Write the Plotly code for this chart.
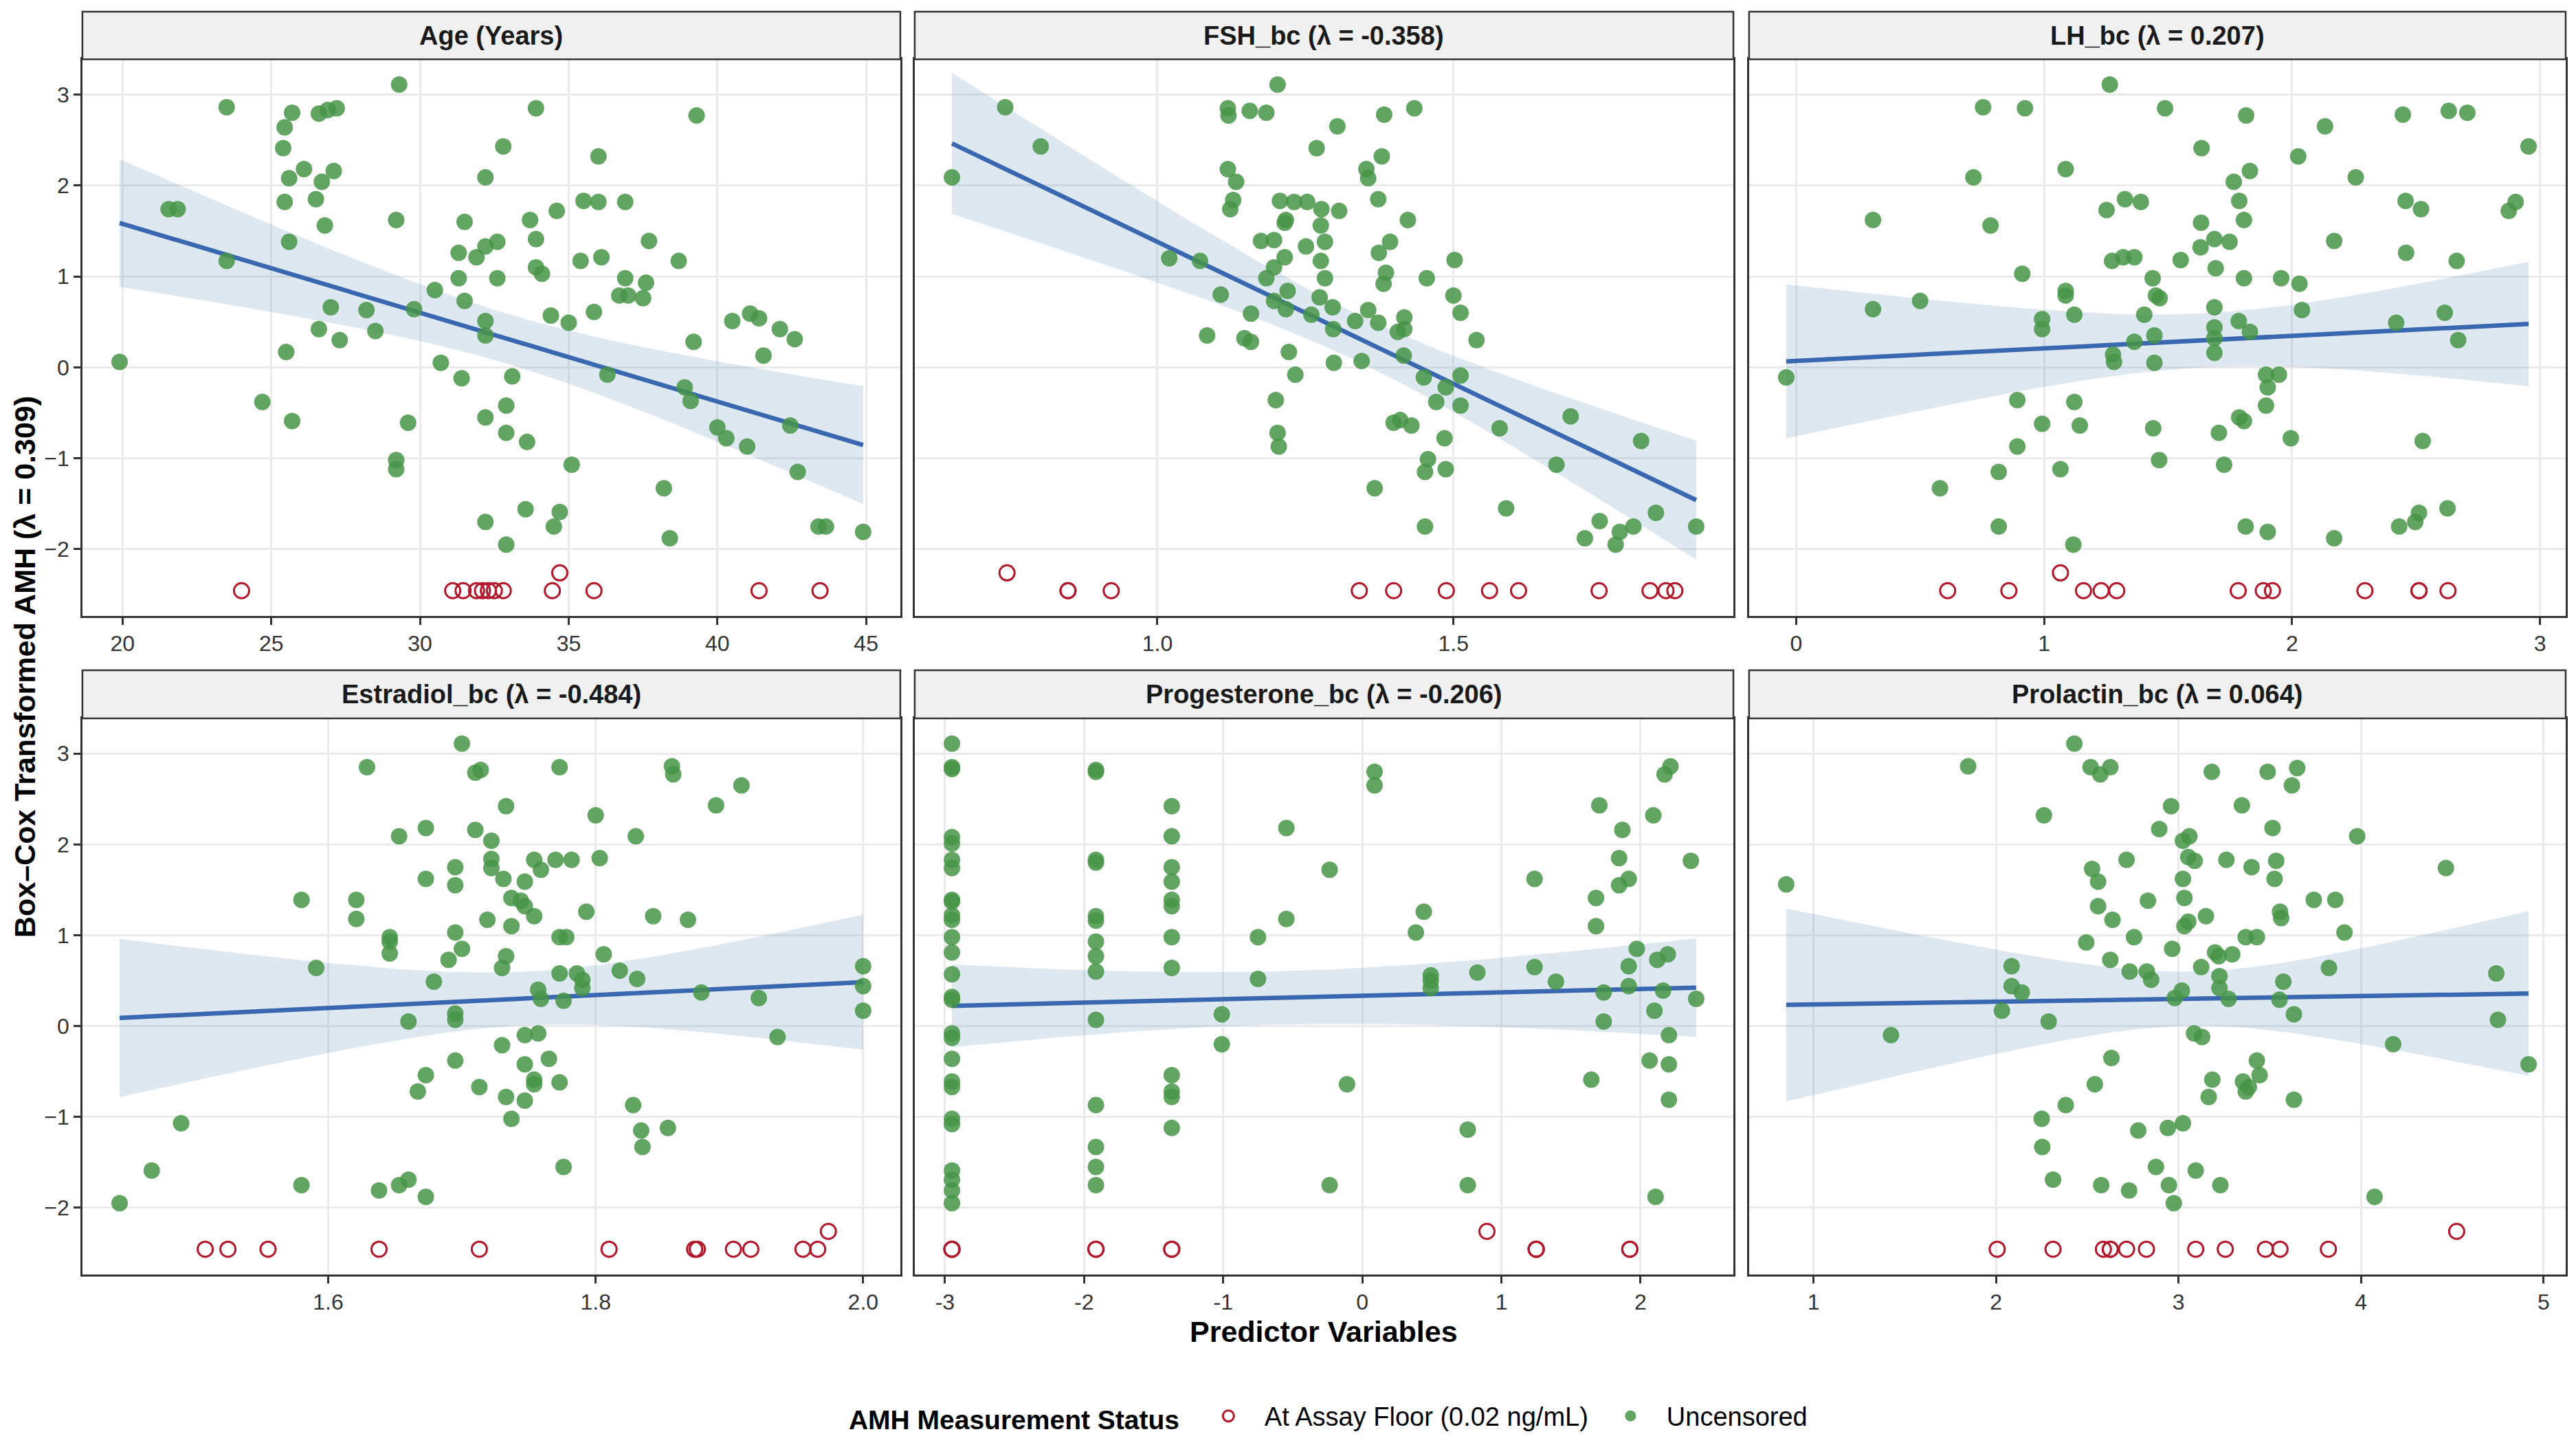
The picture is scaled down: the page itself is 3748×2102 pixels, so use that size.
import numpy as np
import plotly.graph_objects as go

# ---- data: (predictor, Box-Cox AMH) ----
AGE_PTS = [(19.9, 0.06), (21.55, 1.74), (21.85, 1.74), (23.5, 2.86), (23.5, 1.17), (24.7, -0.38),
           (25.4, 2.41), (25.45, 2.64), (25.7, 2.80), (25.6, 2.08), (25.45, 1.82), (25.6, 1.38),
           (25.5, 0.17), (25.7, -0.59), (26.1, 2.18), (26.5, 1.85), (26.7, 2.04), (26.8, 1.56),
           (27.1, 2.16), (26.6, 2.79), (26.9, 2.83), (27.2, 2.85), (27.0, 0.66), (26.6, 0.42),
           (27.3, 0.30), (28.2, 0.63), (28.5, 0.40), (29.3, 3.11), (29.2, 1.62), (29.2, -1.02),
           (29.2, -1.12), (29.6, -0.61), (29.8, 0.64), (30.5, 0.85), (30.7, 0.05), (31.3, 1.26),
           (31.3, 0.98), (31.5, 1.60), (31.5, 0.73), (31.4, -0.12), (31.9, 1.21), (32.2, 1.33),
           (32.2, 2.09), (32.6, 1.38), (32.6, 0.98), (32.8, 2.43), (32.2, 0.51), (32.2, 0.35),
           (33.1, -0.10), (32.9, -0.42), (32.2, -0.55), (32.9, -0.72), (33.6, -0.82), (33.7, 1.62),
           (33.9, 2.85), (33.9, 1.41), (33.9, 1.10), (34.1, 1.03), (34.4, 0.57), (34.6, 1.72),
           (35.0, 0.49), (35.1, -1.07), (33.55, -1.56), (32.2, -1.70), (32.9, -1.95), (34.5, -1.75),
           (34.7, -1.59), (35.4, 1.17), (35.5, 1.83), (36.0, 1.82), (36.0, 2.32), (36.1, 1.21),
           (35.85, 0.61), (36.3, -0.08), (36.9, 0.98), (36.9, 1.82), (36.7, 0.79), (37.0, 0.79),
           (37.5, 0.76), (37.6, 0.93), (37.7, 1.39), (38.2, -1.33), (38.4, -1.88), (38.7, 1.17),
           (38.9, -0.22), (39.1, -0.37), (39.2, 0.28), (39.3, 2.77), (40.0, -0.66), (40.3, -0.78),
           (40.5, 0.51), (41.1, 0.59), (41.4, 0.54), (41.0, -0.87), (41.55, 0.13), (42.1, 0.42),
           (42.6, 0.31), (42.45, -0.64), (42.7, -1.15), (43.4, -1.75), (43.65, -1.75), (44.9, -1.81)]
AGE_FLOOR = [(24.0, -2.456), (31.1, -2.456), (31.45, -2.456), (31.9, -2.456), (32.1, -2.456),
             (32.3, -2.456), (32.5, -2.456), (32.8, -2.456), (34.45, -2.456), (34.7, -2.26),
             (35.85, -2.456), (41.4, -2.456), (43.45, -2.456)]

FSH_PTS = [(0.653, 2.09), (0.743, 2.86), (0.803, 2.43), (1.02, 1.20), (1.072, 1.17), (1.107, 0.80),
           (1.084, 0.35), (1.119, 2.85), (1.12, 2.77), (1.156, 2.82), (1.184, 2.80), (1.203, 3.11),
           (1.119, 2.18), (1.133, 2.04), (1.128, 1.84), (1.123, 1.74), (1.207, 1.83), (1.231, 1.82),
           (1.253, 1.82), (1.277, 1.74), (1.307, 1.72), (1.217, 1.62), (1.215, 1.59), (1.276, 1.56),
           (1.175, 1.39), (1.197, 1.40), (1.251, 1.33), (1.283, 1.38), (1.215, 1.21), (1.197, 1.10),
           (1.184, 0.98), (1.276, 1.17), (1.283, 0.98), (1.22, 0.84), (1.197, 0.73), (1.217, 0.64),
           (1.274, 0.77), (1.296, 0.66), (1.26, 0.58), (1.158, 0.59), (1.147, 0.32), (1.158, 0.28),
           (1.222, 0.17), (1.233, -0.08), (1.297, 0.42), (1.298, 0.05), (1.20, -0.36), (1.203, -0.72),
           (1.205, -0.87), (1.269, 2.41), (1.304, 2.65), (1.353, 2.18), (1.356, 2.08), (1.383, 2.78),
           (1.434, 2.85), (1.379, 2.32), (1.373, 1.85), (1.423, 1.62), (1.393, 1.38), (1.374, 1.26),
           (1.386, 1.04), (1.382, 0.92), (1.334, 0.51), (1.356, 0.63), (1.373, 0.49), (1.417, 0.55),
           (1.417, 0.42), (1.406, 0.39), (1.345, 0.07), (1.416, 0.13), (1.455, 0.98), (1.45, -0.11),
           (1.487, -0.22), (1.471, -0.38), (1.502, 1.18), (1.50, 0.79), (1.512, 0.60), (1.512, -0.09),
           (1.512, -0.42), (1.539, 0.30), (1.399, -0.61), (1.41, -0.58), (1.429, -0.64), (1.485, -0.78),
           (1.457, -1.01), (1.452, -1.15), (1.487, -1.12), (1.367, -1.33), (1.452, -1.75), (1.578, -0.67),
           (1.589, -1.55), (1.674, -1.07), (1.698, -0.54), (1.817, -0.81), (1.722, -1.88), (1.747, -1.69),
           (1.781, -1.81), (1.774, -1.95), (1.804, -1.75), (1.842, -1.60), (1.91, -1.75)]
# floor values: some circles sit exactly on top of each other
FSH_FLOOR = [(0.746, -2.26), (0.849, -2.456), (0.849, -2.456), (0.922, -2.456), (1.341, -2.456),
             (1.399, -2.456), (1.488, -2.456), (1.561, -2.456), (1.61, -2.456), (1.746, -2.456),
             (1.832, -2.456), (1.859, -2.456), (1.874, -2.456)]

LH_PTS = [(-0.04, -0.11), (0.31, 1.62), (0.31, 0.64), (0.50, 0.73), (0.58, -1.33), (0.715, 2.09),
          (0.754, 2.86), (0.784, 1.56), (0.817, -1.15), (0.817, -1.75), (0.892, -0.36), (0.892, -0.87),
          (0.912, 1.03), (0.923, 2.85), (0.992, 0.53), (0.992, 0.42), (0.992, -0.62), (1.066, -1.12),
          (1.087, 2.18), (1.087, 0.84), (1.087, 0.79), (1.122, 0.58), (1.122, -0.38), (1.144, -0.64),
          (1.118, -1.95), (1.265, 3.11), (1.252, 1.73), (1.326, 1.85), (1.39, 1.82), (1.274, 1.17),
          (1.319, 1.21), (1.364, 1.21), (1.278, 0.14), (1.282, 0.06), (1.364, 0.28), (1.404, 0.58),
          (1.438, 0.98), (1.451, 0.79), (1.466, 0.76), (1.445, 0.35), (1.445, 0.05), (1.44, -0.67),
          (1.464, -1.02), (1.488, 2.85), (1.551, 1.18), (1.635, 2.41), (1.633, 1.59), (1.631, 1.32),
          (1.687, 1.41), (1.692, 1.09), (1.687, 0.66), (1.687, 0.44), (1.687, 0.32), (1.687, 0.16),
          (1.705, -0.72), (1.726, -1.07), (1.748, 1.38), (1.765, 2.04), (1.787, 1.83), (1.806, 1.62),
          (1.806, 0.98), (1.785, 0.51), (1.83, 0.39), (1.815, 2.77), (1.83, 2.16), (1.787, -0.55),
          (1.806, -0.59), (1.813, -1.75), (1.895, -0.08), (1.947, -0.08), (1.902, -0.22), (1.895, -0.42),
          (1.902, -1.81), (1.956, 0.98), (1.995, -0.78), (2.025, 2.32), (2.03, 0.92), (2.04, 0.63),
          (2.133, 2.65), (2.17, 1.39), (2.17, -1.88), (2.257, 2.09), (2.42, 0.49), (2.432, -1.75),
          (2.447, 2.78), (2.458, 1.83), (2.46, 1.26), (2.52, 1.74), (2.527, -0.81), (2.497, -1.70),
          (2.512, -1.60), (2.632, 2.82), (2.707, 2.80), (2.664, 1.17), (2.616, 0.60), (2.67, 0.30),
          (2.627, -1.55), (2.874, 1.72), (2.902, 1.82), (2.954, 2.43)]
LH_FLOOR = [(0.611, -2.456), (0.858, -2.456), (1.066, -2.26), (1.159, -2.456), (1.23, -2.456),
            (1.293, -2.456), (1.783, -2.456), (1.884, -2.456), (1.921, -2.456), (2.294, -2.456),
            (2.512, -2.456), (2.512, -2.456), (2.629, -2.456)]

E2_PTS = [(1.444, -1.95), (1.468, -1.59), (1.49, -1.07), (1.58, 1.39), (1.58, -1.75), (1.591, 0.64),
          (1.621, 1.39), (1.621, 1.18), (1.629, 2.85), (1.638, -1.81), (1.646, 0.98), (1.646, 0.93),
          (1.646, 0.80), (1.653, 2.09), (1.653, -1.75), (1.66, -1.69), (1.66, 0.05), (1.667, -0.72),
          (1.673, 2.18), (1.673, 1.62), (1.673, -0.54), (1.673, -1.88), (1.679, 0.49), (1.69, 0.73),
          (1.695, 1.75), (1.695, 1.55), (1.695, 1.03), (1.695, 0.14), (1.695, 0.07), (1.695, -0.38),
          (1.70, 3.11), (1.70, 0.85), (1.71, 2.16), (1.71, 2.79), (1.714, 2.82), (1.713, -0.67),
          (1.719, 1.17), (1.722, 2.04), (1.722, 1.84), (1.722, 1.74), (1.731, 1.62), (1.73, 0.64),
          (1.733, 0.77), (1.733, 2.42), (1.737, 1.41), (1.737, 1.10), (1.73, -0.21), (1.733, -0.78),
          (1.737, -1.02), (1.744, 1.38), (1.747, 1.32), (1.747, 1.59), (1.754, 1.21), (1.754, 1.83),
          (1.759, 1.72), (1.747, -0.10), (1.747, -0.42), (1.747, -0.82), (1.754, -0.59), (1.754, -0.64),
          (1.757, -0.08), (1.757, 0.40), (1.759, 0.30), (1.765, -0.36), (1.77, 1.83), (1.773, 2.85),
          (1.773, 0.98), (1.778, 0.98), (1.773, 0.58), (1.776, 0.28), (1.773, -0.62), (1.776, -1.55),
          (1.782, 1.83), (1.786, 0.58), (1.79, 0.51), (1.79, 0.42), (1.793, 1.26), (1.80, 2.32),
          (1.803, 1.85), (1.806, 0.79), (1.818, 0.61), (1.828, -0.87), (1.83, 2.09), (1.831, 0.52),
          (1.834, -1.15), (1.835, -1.33), (1.843, 1.21), (1.854, -1.12), (1.857, 2.86), (1.858, 2.77),
          (1.869, 1.17), (1.879, 0.37), (1.89, 2.43), (1.909, 2.65), (1.922, 0.31), (1.936, -0.12),
          (2.0, 0.66), (2.0, 0.44), (2.0, 0.17)]
E2_FLOOR = [(1.508, -2.456), (1.525, -2.456), (1.555, -2.456), (1.638, -2.456), (1.713, -2.456),
            (1.81, -2.456), (1.874, -2.456), (1.876, -2.456), (1.903, -2.456), (1.916, -2.456),
            (1.955, -2.456), (1.966, -2.456), (1.974, -2.26)]

P4_PTS = [(-2.95, 3.11), (-2.95, 2.85), (-2.95, 2.83), (-2.95, 2.08), (-2.95, 2.01), (-2.95, 1.83),
          (-2.95, 1.74), (-2.95, 1.39), (-2.95, 1.37), (-2.95, 1.22), (-2.95, 1.17), (-2.95, 0.98),
          (-2.95, 0.81), (-2.95, 0.57), (-2.95, 0.32), (-2.95, 0.29), (-2.95, -0.08), (-2.95, -0.13),
          (-2.95, -0.36), (-2.95, -0.61), (-2.95, -0.67), (-2.95, -1.02), (-2.95, -1.08), (-2.95, -1.59),
          (-2.95, -1.69), (-2.95, -1.81), (-2.95, -1.95),
          (-1.915, 2.82), (-1.915, 2.80), (-1.915, 1.83), (-1.915, 1.80), (-1.915, 1.21), (-1.915, 1.16),
          (-1.915, 0.93), (-1.915, 0.77), (-1.915, 0.60), (-1.915, 0.07), (-1.915, -0.87), (-1.915, -1.33),
          (-1.915, -1.55), (-1.915, -1.75),
          (-1.37, 2.42), (-1.37, 2.09), (-1.37, 1.75), (-1.37, 1.59), (-1.37, 1.39), (-1.37, 1.32),
          (-1.37, 0.98), (-1.37, 0.64), (-1.37, -0.54), (-1.37, -0.72), (-1.37, -0.78), (-1.37, -1.12),
          (-1.01, 0.13), (-1.01, -0.20), (-0.75, 0.98), (-0.75, 0.52), (-0.546, 2.18), (-0.546, 1.18),
          (-0.235, 1.72), (-0.235, -1.75), (-0.11, -0.64), (0.088, 2.80), (0.088, 2.65), (0.385, 1.03),
          (0.442, 1.26), (0.492, 0.56), (0.492, 0.42), (0.492, 0.50), (0.758, -1.14), (0.758, -1.75),
          (0.827, 0.59), (1.238, 1.62), (1.238, 0.65), (1.392, 0.49), (1.646, -0.59), (1.68, 1.41),
          (1.68, 1.10), (1.704, 2.43), (1.735, 0.37), (1.735, 0.05), (1.846, 1.85), (1.846, 1.55),
          (1.869, 2.16), (1.915, 1.62), (1.915, 0.66), (1.915, 0.44), (1.973, 0.85), (2.065, -0.38),
          (2.092, 2.32), (2.1, 0.17), (2.108, -1.88), (2.12, 0.73), (2.162, 0.39), (2.173, 2.77),
          (2.215, 2.86), (2.196, 0.79), (2.204, -0.10), (2.204, -0.42), (2.204, -0.81), (2.362, 1.82),
          (2.40, 0.30)]
P4_FLOOR = [(-2.95, -2.456), (-2.95, -2.456), (-2.95, -2.456), (-1.915, -2.456), (-1.915, -2.456),
            (-1.37, -2.456), (-1.37, -2.456), (0.896, -2.26), (1.25, -2.456), (1.25, -2.456),
            (1.25, -2.456), (1.923, -2.456), (1.923, -2.456)]

PRL_PTS = [(0.85, 1.56), (1.424, -0.10), (1.847, 2.86), (2.032, 0.17), (2.085, 0.66), (2.085, 0.44),
           (2.141, 0.37), (2.25, -1.02), (2.253, -1.33), (2.262, 2.32), (2.288, 0.05), (2.312, -1.69),
           (2.382, -0.87), (2.429, 3.11), (2.494, 0.92), (2.518, 2.85), (2.526, 1.73), (2.541, -0.64),
           (2.559, 1.59), (2.559, 1.32), (2.571, 2.77), (2.626, 2.85), (2.626, 0.73), (2.632, -0.35),
           (2.576, -1.75), (2.638, 1.17), (2.715, 1.83), (2.732, 0.60), (2.729, -1.81), (2.756, 0.98),
           (2.779, -1.15), (2.826, 0.60), (2.832, 1.38), (2.85, 0.51), (2.876, -1.55), (2.894, 2.17),
           (2.941, -1.12), (2.947, -1.75), (2.959, 2.42), (2.965, 0.85), (2.974, -1.95), (2.979, 0.31),
           (3.018, 0.39), (3.024, 2.04), (3.024, 1.62), (3.032, 1.41), (3.032, 1.10), (3.053, 1.15),
           (3.059, 2.09), (3.053, 1.86), (3.088, 1.82), (3.024, -1.07), (3.085, -0.08), (3.129, -0.12),
           (3.094, -1.59), (3.124, 0.65), (3.15, 1.21), (3.182, 2.80), (3.185, -0.59), (3.165, -0.78),
           (3.2, 0.81), (3.22, 0.77), (3.224, 0.55), (3.224, 0.42), (3.229, -1.75), (3.262, 1.83),
           (3.274, 0.30), (3.294, 0.79), (3.347, 2.43), (3.353, -0.61), (3.368, -0.72), (3.385, -0.67),
           (3.368, 0.98), (3.40, 1.75), (3.429, 0.98), (3.429, -0.38), (3.444, -0.54), (3.488, 2.80),
           (3.515, 2.18), (3.526, 1.62), (3.535, 1.82), (3.556, 1.26), (3.562, 1.19), (3.553, 0.29),
           (3.574, 0.49), (3.621, 2.65), (3.632, 0.13), (3.632, -0.81), (3.65, 2.84), (3.741, 1.39),
           (3.824, 0.64), (3.859, 1.39), (3.909, 1.03), (3.979, 2.09), (4.074, -1.88), (4.176, -0.20),
           (4.465, 1.74), (4.741, 0.58), (4.75, 0.07), (4.918, -0.42)]
PRL_FLOOR = [(2.006, -2.456), (2.312, -2.456), (2.588, -2.456), (2.626, -2.456), (2.626, -2.456),
             (2.715, -2.456), (2.824, -2.456), (3.094, -2.456), (3.256, -2.456), (3.476, -2.456),
             (3.556, -2.456), (3.821, -2.456), (4.524, -2.26)]

PANEL_TITLES = ["Age (Years)", "FSH_bc (λ = -0.358)", "LH_bc (λ = 0.207)",
                "Estradiol_bc (λ = -0.484)", "Progesterone_bc (λ = -0.206)", "Prolactin_bc (λ = 0.064)"]
X_TICKS = [[20, 25, 30, 35, 40, 45], [1.0, 1.5], [0, 1, 2, 3],
           [1.6, 1.8, 2.0], [-3, -2, -1, 0, 1, 2], [1, 2, 3, 4, 5]]
X_TICK_TEXT = [["20", "25", "30", "35", "40", "45"], ["1.0", "1.5"], ["0", "1", "2", "3"],
               ["1.6", "1.8", "2.0"], ["-3", "-2", "-1", "0", "1", "2"], ["1", "2", "3", "4", "5"]]
Y_TICKS = [-2, -1, 0, 1, 2, 3]
PANEL_PTS = [AGE_PTS, FSH_PTS, LH_PTS, E2_PTS, P4_PTS, PRL_PTS]
PANEL_FLOOR = [AGE_FLOOR, FSH_FLOOR, LH_FLOOR, E2_FLOOR, P4_FLOOR, PRL_FLOOR]

FONT = "Liberation Sans, Arial, sans-serif"
GREEN = "rgba(70,148,70,0.85)"
RED = "#B2182B"
LINE_BLUE = "#3A68B0"
BAND = "rgba(70,130,180,0.18)"
T_CRIT = 1.98

COL_DOM = [(0.032, 0.3495), (0.3551, 0.6729), (0.679, 0.996)]
ROW_DOM = [(0.5737, 0.959), (0.118, 0.5029)]
STRIP_TOP = [0.9919, 0.5362]


def lm_band(x, y, n_grid=80):
    # straight-line fit with 95% confidence band (like geom_smooth(method = "lm"))
    x = np.asarray(x, float)
    y = np.asarray(y, float)
    b1, b0 = np.polyfit(x, y, 1)
    resid = y - (b0 + b1 * x)
    n = len(x)
    s = np.sqrt(np.sum(resid ** 2) / (n - 2))
    sxx = np.sum((x - x.mean()) ** 2)
    xs = np.linspace(x.min(), x.max(), n_grid)
    fit = b0 + b1 * xs
    se = s * np.sqrt(1.0 / n + (xs - x.mean()) ** 2 / sxx)
    return xs, fit, fit - T_CRIT * se, fit + T_CRIT * se


fig = go.Figure()
all_y = [p[1] for pts in PANEL_PTS for p in pts] + [p[1] for pts in PANEL_FLOOR for p in pts]
y_lo, y_hi = min(all_y), max(all_y)
y_pad = 0.05 * (y_hi - y_lo)

shapes = []
annotations = []
for i in range(6):
    r, c = divmod(i, 3)
    ax = "" if i == 0 else str(i + 1)
    gx, gy = zip(*PANEL_PTS[i])
    fx, fy = zip(*PANEL_FLOOR[i])
    ax_x = list(gx) + list(fx)
    ax_y = list(gy) + list(fy)
    xs, fit, lo, hi = lm_band(ax_x, ax_y)

    fig.add_trace(go.Scatter(
        x=np.concatenate([xs, xs[::-1]]), y=np.concatenate([hi, lo[::-1]]),
        fill="toself", fillcolor=BAND, line=dict(width=0), mode="lines",
        hoverinfo="skip", showlegend=False, xaxis="x" + ax, yaxis="y" + ax,
    ))
    fig.add_trace(go.Scatter(
        x=xs, y=fit, mode="lines", line=dict(color=LINE_BLUE, width=6.5),
        hoverinfo="skip", showlegend=False, xaxis="x" + ax, yaxis="y" + ax,
    ))
    fig.add_trace(go.Scatter(
        x=fx, y=fy, mode="markers", name="At Assay Floor (0.02 ng/mL)",
        marker=dict(symbol="circle-open", size=22, color=RED, line=dict(width=3, color=RED)),
        showlegend=(i == 0), legendgroup="floor", legendrank=1,
        xaxis="x" + ax, yaxis="y" + ax,
    ))
    fig.add_trace(go.Scatter(
        x=gx, y=gy, mode="markers", name="Uncensored",
        marker=dict(size=24, color=GREEN, line=dict(width=0)),
        showlegend=(i == 0), legendgroup="unc", legendrank=2,
        xaxis="x" + ax, yaxis="y" + ax,
    ))

    x_lo, x_hi = min(ax_x), max(ax_x)
    x_pad = 0.05 * (x_hi - x_lo)
    axis_common = dict(
        showgrid=True, gridcolor="#EBEBEB", gridwidth=2.5, zeroline=False,
        showline=True, linecolor="#333333", linewidth=2.5, mirror=True,
        tickfont=dict(family=FONT, size=32, color="#333333"),
    )
    fig.update_layout({
        "xaxis" + ax: dict(
            domain=list(COL_DOM[c]), anchor="y" + ax, range=[x_lo - x_pad, x_hi + x_pad],
            tickvals=X_TICKS[i], ticktext=X_TICK_TEXT[i],
            ticks="outside", ticklen=10, tickwidth=2.5, tickcolor="#333333",
            **axis_common,
        ),
        "yaxis" + ax: dict(
            domain=list(ROW_DOM[r]), anchor="x" + ax, range=[y_lo - y_pad, y_hi + y_pad],
            tickvals=Y_TICKS, showticklabels=(c == 0),
            ticks="outside" if c == 0 else "", ticklen=10, tickwidth=2.5, tickcolor="#333333",
            **axis_common,
        ),
    })

    # facet strip
    shapes.append(dict(
        type="rect", xref="paper", yref="paper",
        x0=COL_DOM[c][0], x1=COL_DOM[c][1], y0=ROW_DOM[r][1], y1=STRIP_TOP[r],
        fillcolor="#F0F0F0", line=dict(color="#333333", width=2.5), layer="above",
    ))
    annotations.append(dict(
        text="<b>" + PANEL_TITLES[i] + "</b>", xref="paper", yref="paper",
        x=(COL_DOM[c][0] + COL_DOM[c][1]) / 2, y=(ROW_DOM[r][1] + STRIP_TOP[r]) / 2,
        xanchor="center", yanchor="middle", showarrow=False,
        font=dict(family=FONT, size=38, color="#1A1A1A"),
    ))

annotations.append(dict(
    text="<b>Predictor Variables</b>", xref="paper", yref="paper", x=0.514, y=0.0785,
    xanchor="center", yanchor="middle", showarrow=False,
    font=dict(family=FONT, size=43, color="#000000"),
))
annotations.append(dict(
    text="<b>Box–Cox Transformed AMH (λ = 0.309)</b>", xref="paper", yref="paper",
    x=0.0096, y=0.5385, textangle=-90, xanchor="center", yanchor="middle", showarrow=False,
    font=dict(family=FONT, size=43, color="#000000"),
))

fig.update_layout(
    width=3748, height=2102,
    margin=dict(l=0, r=0, t=0, b=0),
    paper_bgcolor="white", plot_bgcolor="white",
    shapes=shapes, annotations=annotations,
    showlegend=True,
    legend=dict(
        orientation="h", x=0.552, xanchor="center", y=0.02, yanchor="middle",
        title=dict(text="<b>AMH Measurement Status</b> ", side="left",
                   font=dict(family=FONT, size=39, color="#000000")),
        font=dict(family=FONT, size=38, color="#000000"),
        itemwidth=95, entrywidth=475,
        bgcolor="rgba(0,0,0,0)",
    ),
)

fig.write_html("out.html", config={"displayModeBar": False},
               post_script="document.body.style.margin='0';")
